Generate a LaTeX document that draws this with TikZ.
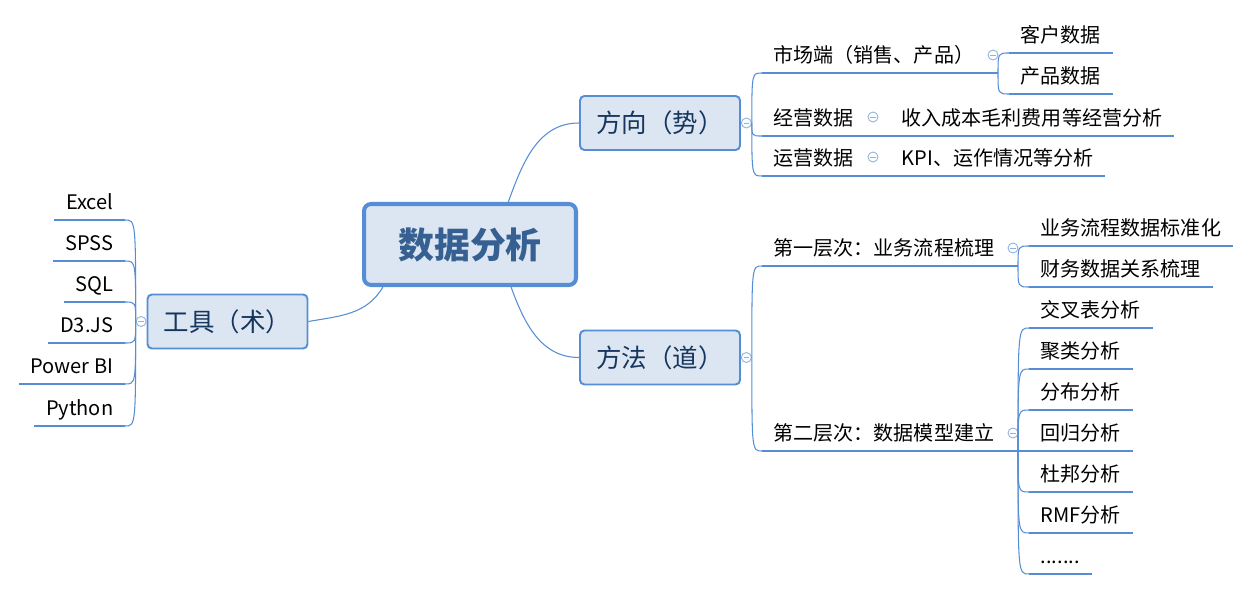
\documentclass[tikz,border=0pt]{standalone}
\usepackage{fontspec}
\setmainfont{Noto Sans CJK SC}
\usetikzlibrary{positioning}
\definecolor{linec}{RGB}{85,142,213}
\definecolor{boxfill}{RGB}{220,230,242}
\definecolor{boxtext}{RGB}{23,54,93}
\definecolor{coretext}{RGB}{55,96,146}
\definecolor{foldc}{RGB}{141,179,226}

\begin{document}
\begin{tikzpicture}[x=0.02cm,y=-0.02cm,
  conn/.style={draw=linec,line width=0.6pt},
  uline/.style={draw=linec,line width=1.7pt},
  leaf/.style={inner xsep=6.5pt,inner ysep=0pt,text height=9pt,text depth=5.7pt,
    font=\fontsize{11.4pt}{13pt}\selectfont,
    append after command={(\tikzlastnode.south west) edge[uline] (\tikzlastnode.south east)}},
  topic/.style={draw=linec,line width=1.1pt,fill=boxfill,rounded corners=2.5pt,
    minimum width=3.2cm,minimum height=1.08cm,text=boxtext,font=\fontsize{14.5pt}{17pt}\selectfont},
  core/.style={draw=linec,line width=2.3pt,fill=boxfill,rounded corners=4pt,
    minimum width=4.24cm,minimum height=1.62cm,text=coretext,font=\bfseries\fontsize{20.4pt}{24pt}\selectfont},
  fold/.style={circle,draw=foldc,fill=white,line width=0.5pt,minimum size=0.2cm,inner sep=0pt,
    path picture={\draw[foldc,line width=0.5pt] ([xshift=1.2pt]path picture bounding box.west) -- ([xshift=-1.2pt]path picture bounding box.east);}}
]
\fill[white] (0,0) rectangle (1250,591);
%  Central topic and its three branches
\node[core] (core) at (470,244.5) {数据分析};
\node[topic] (dir) at (660,123) {方向（势）};
\node[topic] (meth) at (660,357.5) {方法（道）};
\node[topic] (tool) at (227.5,321.5) {工具（术）};
\node[fold,right=0pt of dir] (fdir) {};
\node[fold,right=0pt of meth] (fmeth) {};
\node[fold,left=0pt of tool] (ftool) {};
\draw[conn] (core.48) to[out=70,in=180] (dir.west);
\draw[conn] (core.-46) to[out=-70,in=180] (meth.west);
\draw[conn] (core.206) to[out=-120,in=10] (tool.east);
%  Tools (left)
\node[leaf,anchor=south east] (excel) at (125,220) {Excel};
\node[leaf,anchor=south east] (spss) at (125,261) {SPSS};
\node[leaf,anchor=south east] (sql) at (125,302) {SQL};
\node[leaf,anchor=south east] (d3) at (125,343) {D3.JS};
\node[leaf,anchor=south east] (pbi) at (125,384) {Power BI};
\node[leaf,anchor=south east] (py) at (125,426) {Python};
\foreach \t in {excel,spss,sql,d3,pbi,py}
  \draw[conn] (ftool.west) .. controls (ftool.west |- \t.south east) .. (\t.south east);
%  Direction (top right)
\node[leaf,anchor=south west] (mkt) at (762,73) {市场端（销售、产品）};
\node[leaf,anchor=south west] (biz) at (762,136) {经营数据};
\node[leaf,anchor=south west] (ops) at (762,176) {运营数据};
\foreach \t in {mkt,biz,ops}
  \draw[conn] (fdir.east) .. controls (fdir.east |- \t.south west) .. (\t.south west);
\node[fold] (fmkt) at (993,55) {};
\node[fold] (fbiz) at (873,117) {};
\node[fold] (fops) at (873,157) {};
\node[leaf,anchor=south west] (cust) at (1009,53) {客户数据};
\node[leaf,anchor=south west] (prod) at (1009,94) {产品数据};
\node[leaf,anchor=south west] (inc) at (890,136) {收入成本毛利费用等经营分析};
\node[leaf,anchor=south west] (kpi) at (890,176) {KPI、运作情况等分析};
\coordinate (kmkt) at (998,73);
\draw[conn] (mkt.south east) -- (kmkt);
\draw[conn] (kmkt) .. controls (kmkt |- cust.south west) .. (cust.south west);
\draw[conn] (kmkt) .. controls (kmkt |- prod.south west) .. (prod.south west);
\draw[conn] (biz.south east) -- (inc.south west);
\draw[conn] (ops.south east) -- (kpi.south west);
%  Method (bottom right)
\node[leaf,anchor=south west] (lv1) at (762,266) {第一层次：业务流程梳理};
\node[leaf,anchor=south west] (lv2) at (762,451) {第二层次：数据模型建立};
\foreach \t in {lv1,lv2}
  \draw[conn] (fmeth.east) .. controls (fmeth.east |- \t.south west) .. (\t.south west);
\node[fold] (flv1) at (1013,248) {};
\node[fold] (flv2) at (1013,433) {};
\node[leaf,anchor=south west] (std) at (1029,246) {业务流程数据标准化};
\node[leaf,anchor=south west] (fin) at (1029,287) {财务数据关系梳理};
\coordinate (klv1) at (1018,266);
\draw[conn] (lv1.south east) -- (klv1);
\draw[conn] (klv1) .. controls (klv1 |- std.south west) .. (std.south west);
\draw[conn] (klv1) .. controls (klv1 |- fin.south west) .. (fin.south west);
\node[leaf,anchor=south west] (m1) at (1029,328) {交叉表分析};
\node[leaf,anchor=south west] (m2) at (1029,369) {聚类分析};
\node[leaf,anchor=south west] (m3) at (1029,410) {分布分析};
\node[leaf,anchor=south west] (m4) at (1029,451) {回归分析};
\node[leaf,anchor=south west] (m5) at (1029,492) {杜邦分析};
\node[leaf,anchor=south west] (m6) at (1029,533) {RMF分析};
\node[leaf,anchor=south west] (m7) at (1029,574) {.......};
\coordinate (klv2) at (1018,451);
\draw[conn] (lv2.south east) -- (m4.south west);
\foreach \t in {m1,m2,m3,m5,m6,m7}
  \draw[conn] (klv2) .. controls (klv2 |- \t.south west) .. (\t.south west);
\end{tikzpicture}
\end{document}
